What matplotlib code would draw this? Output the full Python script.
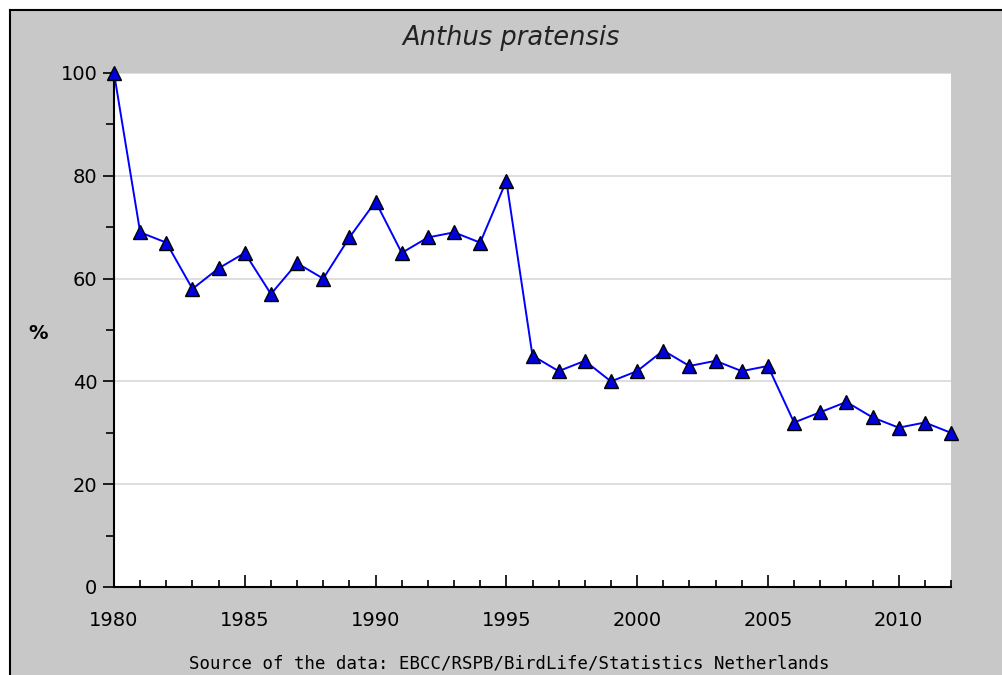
import matplotlib
matplotlib.use("Agg")
import matplotlib.pyplot as plt
from matplotlib.patches import Rectangle
from matplotlib.lines import Line2D
from matplotlib.ticker import MultipleLocator

years = list(range(1980, 2013))
values = [100, 69, 67, 58, 62, 65, 57, 63, 60, 68, 75, 65, 68, 69, 67, 79,
          45, 42, 44, 40, 42, 46, 43, 44, 42, 43, 32, 34, 36, 33, 31, 32, 30]
title = "Anthus pratensis"
ylabel = "%"
source = "Source of the data: EBCC/RSPB/BirdLife/Statistics Netherlands"

W, H = 1002, 675
fig = plt.figure(figsize=(W / 100, H / 100), dpi=100)
fig.patch.set_facecolor("white")
bg = Rectangle((10 / W, 0), 1.0, (H - 10) / H, transform=fig.transFigure,
               facecolor="#c8c8c8", edgecolor="none", zorder=-10)
fig.patches.append(bg)
fig.lines.append(Line2D([10 / W, 10 / W], [0, (H - 10) / H], transform=fig.transFigure,
                        color="black", linewidth=1.5))
fig.lines.append(Line2D([10 / W, 1], [(H - 10) / H, (H - 10) / H], transform=fig.transFigure,
                        color="black", linewidth=1.5))

ax = fig.add_axes([114 / W, (H - 587) / H, (951 - 114) / W, (587 - 73) / H])
ax.set_facecolor("white")
ax.plot(years, values, color="#0000ff", linewidth=1.4, marker="^", markersize=10.5,
        markerfacecolor="#0000dd", markeredgecolor="black", markeredgewidth=1.0,
        clip_on=False, zorder=5)
ax.set_xlim(1980, 2012)
ax.set_ylim(0, 100)
ax.xaxis.set_major_locator(MultipleLocator(5))
ax.xaxis.set_minor_locator(MultipleLocator(1))
ax.yaxis.set_major_locator(MultipleLocator(20))
ax.yaxis.set_minor_locator(MultipleLocator(10))
ax.grid(axis="y", which="major", color="#d8d8d8", linewidth=1.2)
ax.set_axisbelow(True)
for s in ["top", "right"]:
    ax.spines[s].set_visible(False)
for s in ["left", "bottom"]:
    ax.spines[s].set_linewidth(1.5)
    ax.spines[s].set_color("black")
ax.tick_params(axis="x", which="major", direction="in", length=9, width=1.2,
               pad=17, labelsize=14)
ax.tick_params(axis="x", which="minor", direction="in", length=5, width=1.2)
ax.tick_params(axis="y", which="major", direction="out", length=8, width=1.2,
               pad=4, labelsize=14)
ax.tick_params(axis="y", which="minor", direction="out", length=6, width=1.2)

fig.text(511 / W, 1 - 38 / H, title, ha="center", va="center", fontsize=18.5,
         style="italic", color="#222222")
fig.text(38 / W, 1 - 333 / H, ylabel, ha="center", va="center", fontsize=14,
         fontweight="bold")
fig.text(509 / W, 1 - 663 / H, source, ha="center", va="center", fontsize=12.5,
         family="DejaVu Sans Mono")

fig.savefig("out.png", dpi=100, facecolor=fig.get_facecolor())
